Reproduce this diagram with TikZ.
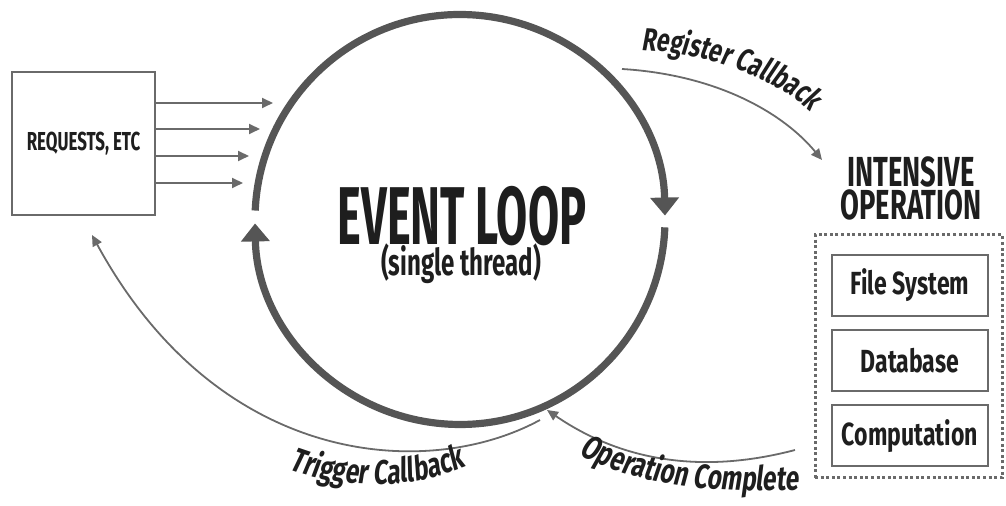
\documentclass[tikz,border=0pt]{standalone}
\usepackage{fontspec}
\usepackage{tikz}
\usetikzlibrary{arrows.meta,decorations.text}
\newfontfamily\loopfont[FakeStretch=0.55]{Fira Sans}
\newfontfamily\midfont[FakeStretch=0.65]{Fira Sans}
\newfontfamily\boxfont[FakeStretch=0.72]{Fira Sans}
\newfontfamily\labfont[FakeStretch=0.72,FakeSlant=0.12]{Fira Sans}
\definecolor{ring}{HTML}{555555}
\definecolor{wire}{HTML}{6A6A6A}
\definecolor{ink}{HTML}{1E1E1E}
\tikzset{
  ringarc/.style={draw=ring, line width=3.6pt, -{Triangle[width=14pt,length=9pt]}},
  wirearrow/.style={draw=wire, line width=0.9pt, -{Triangle[width=5pt,length=5.5pt]}},
  looptitle/.style={text=ink, font=\loopfont\bfseries\fontsize{41}{41}\selectfont, inner sep=0pt},
  loopsub/.style={text=ink, font=\midfont\bfseries\fontsize{18.5}{18.5}\selectfont, inner sep=0pt},
  optitle/.style={text=ink, align=center, font=\midfont\bfseries\fontsize{21}{16.5}\selectfont, inner sep=0pt},
  reqbox/.style={draw=wire, line width=1pt, minimum width=71.5pt, minimum height=71.5pt,
    text=ink, font=\midfont\bfseries\fontsize{13}{13}\selectfont},
  workzone/.style={draw=wire, line width=1.5pt, dash pattern=on 1.5pt off 1.3pt,
    minimum width=93.5pt, minimum height=121.5pt},
  workbox/.style={draw=wire, line width=1pt, minimum width=78pt, minimum height=30.5pt,
    text=ink, font=\boxfont\bfseries\fontsize{16}{16}\selectfont},
  curvetext/.style={decorate, decoration={text along path, text align=center, text color=ink}},
}
\begin{document}
\begin{tikzpicture}[x=0.5pt,y=-0.5pt]
  \useasboundingbox (0,0) rectangle (1006,506);

  % the loop
  \coordinate (loop) at (460,219.5);
  \def\rad{205}
  \draw[ringarc] (loop) ++(182.5:\rad) arc[start angle=182.5, end angle=358.9, radius=\rad];
  \draw[ringarc] (loop) ++(2.2:\rad) arc[start angle=2.2, end angle=178.9, radius=\rad];
  \node[looptitle, anchor=base] (evt) at (462,245) {EVENT LOOP};
  \node[loopsub, anchor=base] (thr) at (461,276) {(single thread)};

  % incoming requests
  \node[reqbox] (req) at (83.5,143.5) {REQUESTS, ETC};
  \foreach \yy/\xx [count=\i] in {103/273,129/260,156/249,183/243}{
    \coordinate (req\i) at (\xx,\yy);
    \draw[wirearrow] (req.east |- req\i) -- (req\i);
  }

  % intensive operation
  \node[optitle] (intense) at (911,188) {INTENSIVE\\OPERATION};
  \node[workzone] (zone) at (908.5,356.5) {};
  \node[workbox] (fs) at (910,285.5) {File System};
  \node[workbox] (db) at (910,360.5) {Database};
  \node[workbox] (cpu) at (910,436) {Computation};

  % callbacks
  \coordinate (regtail) at (622,69);
  \coordinate (regtip) at (822,160);
  \coordinate (trigtail) at (540,420);
  \coordinate (trigtip) at (92,235);
  \coordinate (donetail) at (795,450);
  \coordinate (donetip) at (547,410);
  \draw[wirearrow] (regtail) .. controls (720,75) and (785,115) .. (regtip);
  \draw[wirearrow] (trigtail) .. controls (430,480) and (220,470) .. (trigtip);
  \draw[wirearrow] (donetail) .. controls (700,475) and (620,460) .. (donetip);

  \path[curvetext, decoration={text={|\labfont\bfseries\fontsize{16}{16}\selectfont|Register Callback}}]
    (622,50) .. controls (700,48) and (785,78) .. (824,126);
  \path[curvetext, decoration={text={|\labfont\bfseries\fontsize{17}{17}\selectfont|Trigger Callback}}]
    (280,466) .. controls (340,492) and (420,490) .. (475,462);
  \path[curvetext, decoration={text={|\labfont\bfseries\fontsize{17}{17}\selectfont|Operation Complete}}]
    (580,455) .. controls (630,482) and (700,494) .. (798,490);
\end{tikzpicture}
\end{document}
